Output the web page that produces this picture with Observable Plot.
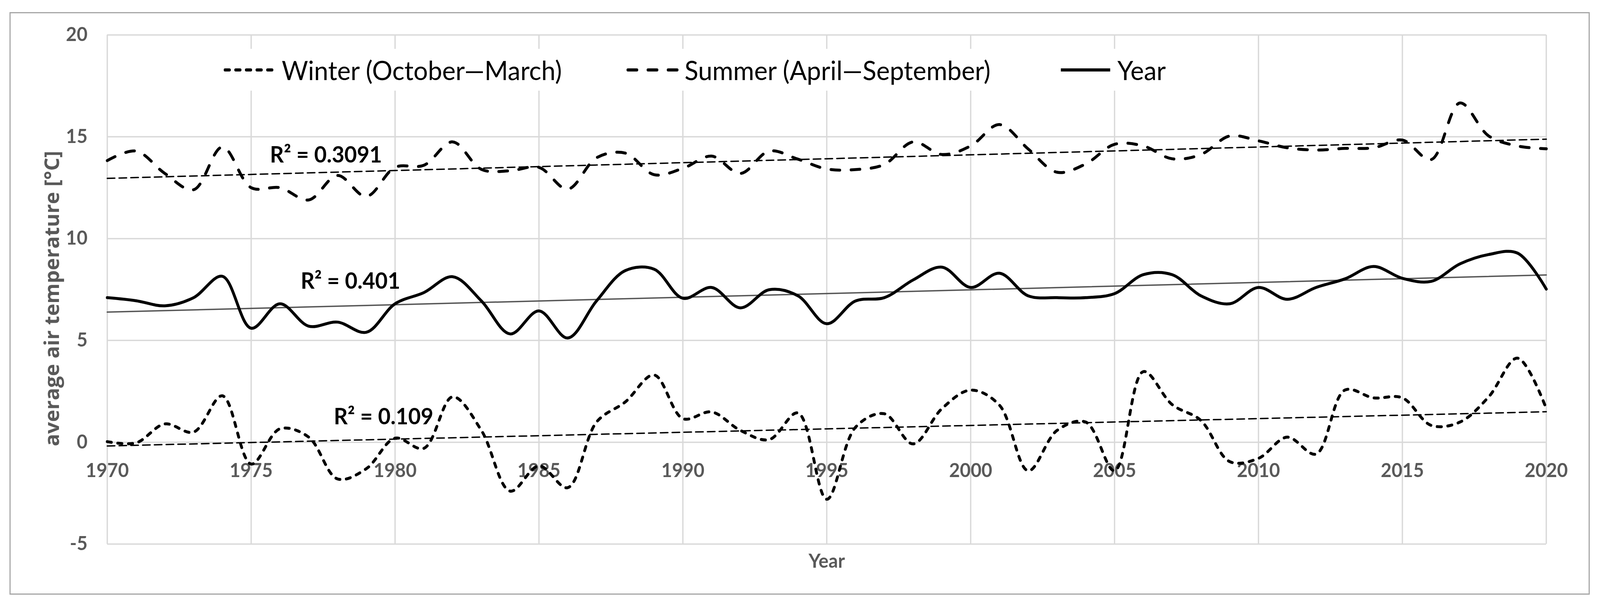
<!DOCTYPE html>
<html><head><meta charset="utf-8">
<script src="https://cdn.jsdelivr.net/npm/d3@7"></script>
<script src="https://cdn.jsdelivr.net/npm/@observablehq/plot@0.6"></script>
<style>
html,body{margin:0;padding:0;background:#fff;overflow:hidden;}
#wrap{position:relative;width:4214px;height:1551px;overflow:hidden;background:#fff;transform-origin:0 0;}
#frame{position:absolute;left:25px;top:31px;width:4162px;height:1491px;border:3px solid #a6a6a6;box-sizing:border-box;}
#chart{position:absolute;left:0;top:0;}
#legend{position:absolute;left:560px;top:125px;width:2560px;height:107px;background:#fff;}
.item{position:absolute;top:0;height:107px;display:flex;align-items:center;font-family:Lato,"Open Sans",sans-serif;font-size:67px;color:#000;white-space:nowrap;}
.item svg{margin-right:15px;}
</style>
</head><body>
<div id="wrap"><div id="frame"></div><div id="chart"></div><div id="legend"></div></div>
<script>
// ---- data ----
const years = [1970,1971,1972,1973,1974,1975,1976,1977,1978,1979,
  1980,1981,1982,1983,1984,1985,1986,1987,1988,1989,
  1990,1991,1992,1993,1994,1995,1996,1997,1998,1999,
  2000,2001,2002,2003,2004,2005,2006,2007,2008,2009,
  2010,2011,2012,2013,2014,2015,2016,2017,2018,2019,2020];
const winter = [0.03,-0.03,0.9,0.5,2.28,-1.07,0.66,0.25,-1.8,-1.3,
  0.2,-0.3,2.23,0.58,-2.4,-1.16,-2.23,0.99,1.98,3.3,
  1.16,1.49,0.58,0.13,1.44,-2.8,0.74,1.4,-0.08,1.65,
  2.56,1.82,-1.4,0.58,0.99,-1.4,3.47,1.85,1.07,-0.95,
  -0.79,0.25,-0.58,2.56,2.18,2.18,0.83,0.99,2.23,4.13,1.65];
const summer = [13.83,14.3,13.2,12.4,14.5,12.5,12.5,11.9,13.1,12.07,
  13.5,13.6,14.75,13.4,13.33,13.5,12.43,13.97,14.2,13.14,
  13.45,14.05,13.2,14.3,13.9,13.42,13.39,13.64,14.75,14.13,
  14.55,15.6,14.4,13.26,13.67,14.63,14.55,13.92,14.13,15.04,
  14.8,14.46,14.35,14.43,14.46,14.84,13.88,16.66,15.04,14.55,14.41];
const annual = [7.1,6.95,6.7,7.1,8.15,5.6,6.8,5.7,5.9,5.4,
  6.8,7.35,8.13,6.94,5.32,6.45,5.12,6.94,8.43,8.5,
  7.07,7.6,6.6,7.49,7.19,5.82,6.94,7.1,7.97,8.6,
  7.6,8.3,7.19,7.1,7.1,7.3,8.23,8.23,7.19,6.8,
  7.6,7.02,7.6,8.02,8.63,8.05,7.9,8.76,9.22,9.29,7.52];
const xTicks = [1970,1975,1980,1985,1990,1995,2000,2005,2010,2015,2020];
const yTicks = [-5,0,5,10,15,20];
const seriesNames = ["Winter (October\u2014March)","Summer (April\u2014September)","Year"];
const r2Labels = ["R\u00b2 = 0.3091","R\u00b2 = 0.401","R\u00b2 = 0.109"];
const r2Year = [1977.6,1978.45,1979.6];
const r2Temp = [14.08,7.89,1.24];
const xTitle = "Year";
const yTitle = "average air temperature [\u00b0C]";

// ---- styles ----
const tickFont = {fontFamily:"Lato, 'Open Sans', sans-serif", fontSize:49, fontWeight:"bold", fill:"#595959"};
const titleFont = {fontFamily:"'Open Sans', Lato, sans-serif", fontSize:53, fontWeight:"bold", fill:"#595959"};
const winterDash = "11,17", summerDash = "23,30";

const rows = years.map((year,i)=>({year, winter:winter[i], summer:summer[i], annual:annual[i]}));

const chart = Plot.plot({
  width:4214, height:1551,
  marginLeft:282, marginRight:142, marginTop:89, marginBottom:159,
  style:{background:"transparent", fontFamily:"Lato, 'Open Sans', sans-serif"},
  x:{domain:[1970,2020], axis:null},
  y:{domain:[-5,20], axis:null},
  marks:[
    Plot.gridX(xTicks, {stroke:"#d9d9d9", strokeOpacity:1, strokeWidth:3.5}),
    Plot.gridY(yTicks, {stroke:"#d9d9d9", strokeOpacity:1, strokeWidth:3.5}),
    Plot.text(yTicks, {x:()=>1970, y:d=>d, text:d=>String(d), dx:-52, textAnchor:"end", ...tickFont}),
    Plot.text(xTicks, {x:d=>d, y:()=>0, dy:73, text:d=>String(d), ...tickFont}),
    Plot.text([yTitle], {frameAnchor:"left", rotate:-90, dx:-144, dy:23, textAnchor:"middle", lineAnchor:"middle", text:d=>d, ...titleFont}),
    Plot.text([xTitle], {frameAnchor:"bottom", dy:45, textAnchor:"middle", lineAnchor:"middle", text:d=>d, ...tickFont}),
    Plot.linearRegressionY(rows, {x:"year", y:"summer", ci:0, stroke:"#000", strokeWidth:3.5, strokeDasharray:"20,11"}),
    Plot.linearRegressionY(rows, {x:"year", y:"annual", ci:0, stroke:"#555", strokeWidth:3.5}),
    Plot.linearRegressionY(rows, {x:"year", y:"winter", ci:0, stroke:"#000", strokeWidth:3.5, strokeDasharray:"20,11"}),
    Plot.line(rows, {x:"year", y:"winter", curve:"catmull-rom", stroke:"#000", strokeWidth:7.5, strokeDasharray:winterDash, strokeLinecap:"round"}),
    Plot.line(rows, {x:"year", y:"summer", curve:"catmull-rom", stroke:"#000", strokeWidth:7.5, strokeDasharray:summerDash, strokeLinecap:"round"}),
    Plot.line(rows, {x:"year", y:"annual", curve:"catmull-rom", stroke:"#000", strokeWidth:7.5}),
    Plot.text(r2Labels, {x:r2Year, y:r2Temp, text:d=>d, fontFamily:"Lato, 'Open Sans', sans-serif", fontSize:57, fontWeight:"bold", fill:"#000"})
  ]
});
document.getElementById("chart").appendChild(chart);

// ---- legend ----
const legend = document.getElementById("legend");
const legendLeft = [29, 1090, 2230];
const legendDash = [winterDash, summerDash, null];
seriesNames.forEach((name,i)=>{
  const item = document.createElement("div");
  item.className = "item";
  item.style.left = legendLeft[i] + "px";
  const dash = legendDash[i] ? `stroke-dasharray="${legendDash[i]}" stroke-linecap="round"` : "";
  item.innerHTML = `<svg width="138" height="20"><line x1="4" x2="134" y1="10" y2="10" stroke="#000" stroke-width="8" ${dash}/></svg><span>${name}</span>`;
  legend.appendChild(item);
});

// ---- fit the 4214x1551 layout into the actual viewport ----
function fit(){
  const vw = document.documentElement.clientWidth || window.innerWidth;
  const vh = document.documentElement.clientHeight || window.innerHeight;
  const sx = Math.min(1, vw/4214), sy = Math.min(1, vh/1551);
  document.getElementById("wrap").style.transform = (sx < 1 || sy < 1) ? `scale(${sx},${sy})` : "";
}
fit();
window.addEventListener("resize", fit);
</script>
</body></html>
